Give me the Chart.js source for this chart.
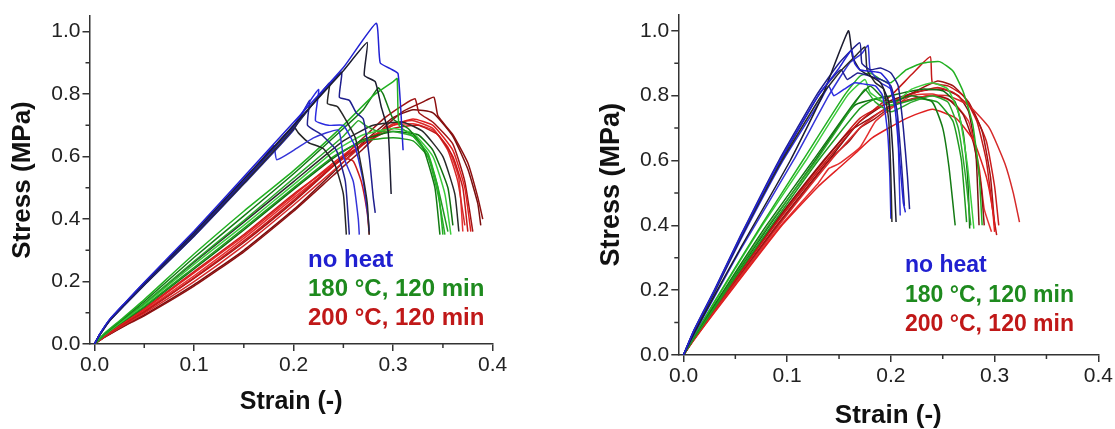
<!DOCTYPE html>
<html>
<head>
<meta charset="utf-8">
<script src="https://cdn.jsdelivr.net/npm/chart.js@4.4.0/dist/chart.umd.min.js"></script>
<style>
  body { margin: 0; background: #fff; width: 1115px; height: 429px; overflow: hidden; position: relative; }
  canvas { position: absolute; top: 0; }
  #leftChart { left: 0; }
  #rightChart { left: 570px; }
  .key { position: absolute; font-family: 'Liberation Sans', Arial, sans-serif; font-weight: bold; white-space: nowrap; }
</style>
</head>
<body>
<canvas id="leftChart" width="560" height="429"></canvas>
<canvas id="rightChart" width="545" height="429"></canvas>
<div class="key" id="keyLeft" style="left:308px; top:244px; font-size:24px; line-height:29px;"></div>
<div class="key" id="keyRight" style="left:905px; top:250px; font-size:23px; line-height:29.5px;"></div>

<script>
// axes
const strainTicks = [0, 0.1, 0.2, 0.3, 0.4];
const strainMinor = [0.05, 0.15, 0.25, 0.35];
const stressTicks = [0, 0.2, 0.4, 0.6, 0.8, 1.0];
const stressMinor = [0.1, 0.3, 0.5, 0.7, 0.9];
const groupNames = ['no heat', '180 °C, 120 min', '200 °C, 120 min'];

// left panel, [strain, stress]
const leftNoHeat = [
  [[0,0],[0.005,0.03],[0.015,0.078],[0.03,0.13],[0.05,0.198],[0.1,0.362],[0.15,0.535],[0.2,0.71],[0.25,0.885],[0.283,1.027],[0.287,0.90],[0.298,0.88],[0.305,0.865],[0.31,0.62]],
  [[0,0],[0.005,0.029],[0.015,0.076],[0.03,0.128],[0.05,0.195],[0.1,0.357],[0.15,0.528],[0.2,0.70],[0.25,0.875],[0.274,0.965],[0.271,0.86],[0.282,0.84],[0.288,0.76],[0.295,0.68],[0.298,0.48]],
  [[0,0],[0.005,0.028],[0.015,0.075],[0.03,0.126],[0.05,0.192],[0.1,0.352],[0.15,0.52],[0.2,0.695],[0.248,0.87],[0.246,0.79],[0.256,0.78],[0.263,0.74],[0.27,0.72],[0.276,0.60],[0.28,0.47],[0.282,0.42]],
  [[0,0],[0.005,0.028],[0.015,0.074],[0.03,0.125],[0.05,0.19],[0.1,0.348],[0.15,0.515],[0.2,0.69],[0.236,0.835],[0.234,0.77],[0.244,0.76],[0.252,0.72],[0.262,0.66],[0.269,0.55],[0.274,0.45],[0.276,0.35]],
  [[0,0],[0.005,0.03],[0.015,0.077],[0.03,0.129],[0.05,0.196],[0.1,0.355],[0.15,0.525],[0.2,0.70],[0.225,0.815],[0.222,0.715],[0.235,0.70],[0.25,0.70],[0.262,0.63],[0.27,0.52],[0.275,0.40],[0.276,0.36]],
  [[0,0],[0.005,0.027],[0.015,0.073],[0.03,0.123],[0.05,0.188],[0.1,0.345],[0.15,0.512],[0.2,0.685],[0.216,0.78],[0.214,0.70],[0.228,0.67],[0.243,0.62],[0.252,0.52],[0.256,0.35]],
  [[0,0],[0.005,0.029],[0.015,0.075],[0.03,0.126],[0.05,0.19],[0.1,0.345],[0.15,0.515],[0.18,0.635],[0.183,0.59],[0.2,0.62],[0.22,0.66],[0.245,0.685],[0.25,0.60],[0.26,0.52],[0.265,0.40],[0.266,0.35]],
  [[0,0],[0.005,0.028],[0.015,0.074],[0.03,0.125],[0.05,0.19],[0.1,0.35],[0.15,0.52],[0.2,0.695],[0.205,0.675],[0.215,0.645],[0.23,0.625],[0.242,0.57],[0.25,0.48],[0.253,0.35]]
];
const left180 = [
  [[0,0],[0.01,0.034],[0.027,0.079],[0.05,0.142],[0.1,0.288],[0.15,0.425],[0.2,0.555],[0.25,0.70],[0.28,0.795],[0.30,0.84],[0.304,0.85],[0.306,0.70],[0.32,0.665],[0.335,0.61],[0.345,0.50],[0.35,0.35]],
  [[0,0],[0.01,0.032],[0.027,0.076],[0.05,0.136],[0.1,0.277],[0.15,0.41],[0.2,0.545],[0.25,0.69],[0.27,0.75],[0.285,0.82],[0.29,0.80],[0.30,0.72],[0.315,0.69],[0.33,0.63],[0.342,0.50],[0.347,0.35]],
  [[0,0],[0.01,0.031],[0.027,0.074],[0.05,0.13],[0.1,0.265],[0.15,0.395],[0.2,0.53],[0.25,0.665],[0.265,0.715],[0.272,0.70],[0.285,0.68],[0.30,0.68],[0.32,0.665],[0.335,0.60],[0.345,0.48],[0.352,0.35]],
  [[0,0],[0.01,0.03],[0.027,0.071],[0.05,0.125],[0.1,0.255],[0.15,0.38],[0.2,0.51],[0.24,0.615],[0.27,0.67],[0.30,0.69],[0.32,0.675],[0.34,0.60],[0.352,0.48],[0.358,0.35]],
  [[0,0],[0.01,0.029],[0.027,0.069],[0.05,0.12],[0.1,0.245],[0.15,0.37],[0.2,0.50],[0.24,0.60],[0.27,0.65],[0.30,0.66],[0.32,0.65],[0.335,0.60],[0.345,0.50],[0.355,0.36]],
  [[0,0],[0.01,0.029],[0.027,0.068],[0.05,0.118],[0.1,0.24],[0.15,0.365],[0.2,0.495],[0.24,0.595],[0.27,0.655],[0.30,0.68],[0.325,0.67],[0.34,0.62],[0.355,0.50],[0.36,0.38]],
  [[0,0],[0.01,0.031],[0.027,0.073],[0.05,0.128],[0.1,0.262],[0.15,0.39],[0.2,0.52],[0.25,0.65],[0.28,0.70],[0.31,0.71],[0.33,0.68],[0.35,0.60],[0.362,0.48],[0.366,0.36]]
];
const left200 = [
  [[0,0],[0.01,0.026],[0.035,0.08],[0.05,0.11],[0.1,0.228],[0.15,0.345],[0.2,0.475],[0.24,0.58],[0.27,0.65],[0.30,0.70],[0.32,0.72],[0.34,0.70],[0.36,0.62],[0.372,0.50],[0.378,0.36]],
  [[0,0],[0.01,0.024],[0.035,0.075],[0.05,0.103],[0.1,0.212],[0.15,0.33],[0.2,0.46],[0.24,0.57],[0.27,0.64],[0.30,0.69],[0.325,0.70],[0.345,0.67],[0.36,0.60],[0.37,0.50],[0.375,0.36]],
  [[0,0],[0.01,0.023],[0.035,0.071],[0.05,0.098],[0.1,0.2],[0.15,0.315],[0.2,0.445],[0.24,0.555],[0.26,0.61],[0.28,0.665],[0.30,0.705],[0.32,0.715],[0.34,0.69],[0.355,0.62],[0.365,0.52],[0.372,0.38]],
  [[0,0],[0.01,0.021],[0.035,0.066],[0.05,0.09],[0.1,0.185],[0.15,0.295],[0.2,0.425],[0.24,0.54],[0.27,0.625],[0.29,0.69],[0.31,0.745],[0.33,0.775],[0.341,0.79],[0.345,0.73],[0.36,0.67],[0.375,0.58],[0.385,0.47],[0.39,0.40]],
  [[0,0],[0.01,0.024],[0.035,0.074],[0.05,0.102],[0.1,0.21],[0.15,0.325],[0.2,0.455],[0.24,0.57],[0.27,0.66],[0.29,0.72],[0.31,0.765],[0.322,0.785],[0.326,0.74],[0.34,0.71],[0.36,0.64],[0.372,0.52],[0.38,0.36]],
  [[0,0],[0.01,0.025],[0.035,0.077],[0.05,0.106],[0.1,0.218],[0.15,0.338],[0.2,0.468],[0.23,0.545],[0.25,0.60],[0.27,0.64],[0.30,0.70],[0.32,0.705],[0.34,0.685],[0.355,0.63],[0.366,0.53],[0.37,0.36]],
  [[0,0],[0.01,0.027],[0.035,0.082],[0.05,0.113],[0.1,0.232],[0.15,0.35],[0.2,0.48],[0.23,0.55],[0.25,0.595],[0.26,0.585],[0.268,0.52],[0.274,0.42],[0.276,0.35]],
  [[0,0],[0.01,0.022],[0.035,0.068],[0.05,0.093],[0.1,0.19],[0.15,0.30],[0.2,0.43],[0.24,0.55],[0.27,0.645],[0.30,0.725],[0.32,0.75],[0.34,0.74],[0.36,0.665],[0.375,0.56],[0.385,0.45],[0.388,0.38]]
];

// right panel, [strain, stress]
const rightNoHeat = [
  [[0,0],[0.01,0.075],[0.03,0.2],[0.055,0.365],[0.093,0.6],[0.13,0.80],[0.15,0.885],[0.162,0.94],[0.165,0.90],[0.17,0.88],[0.18,0.875],[0.19,0.87],[0.198,0.84],[0.204,0.76],[0.208,0.62],[0.212,0.47],[0.214,0.44]],
  [[0,0],[0.01,0.065],[0.03,0.185],[0.055,0.33],[0.103,0.6],[0.134,0.8],[0.159,1.0],[0.163,0.92],[0.17,0.88],[0.18,0.86],[0.19,0.84],[0.198,0.78],[0.202,0.62],[0.205,0.41]],
  [[0,0],[0.01,0.076],[0.03,0.202],[0.055,0.368],[0.092,0.6],[0.128,0.80],[0.15,0.90],[0.17,0.963],[0.172,0.90],[0.18,0.88],[0.19,0.885],[0.2,0.87],[0.207,0.83],[0.212,0.70],[0.216,0.55],[0.218,0.45]],
  [[0,0],[0.01,0.073],[0.03,0.196],[0.055,0.36],[0.095,0.6],[0.132,0.795],[0.15,0.87],[0.165,0.92],[0.175,0.95],[0.177,0.88],[0.185,0.84],[0.193,0.82],[0.198,0.72],[0.2,0.55],[0.201,0.41]],
  [[0,0],[0.01,0.072],[0.03,0.194],[0.055,0.355],[0.096,0.6],[0.133,0.79],[0.14,0.83],[0.145,0.80],[0.155,0.82],[0.165,0.84],[0.175,0.835],[0.185,0.83],[0.192,0.80],[0.197,0.68],[0.199,0.55],[0.2,0.42]],
  [[0,0],[0.01,0.074],[0.03,0.198],[0.055,0.362],[0.094,0.6],[0.13,0.80],[0.145,0.86],[0.152,0.88],[0.158,0.85],[0.168,0.87],[0.18,0.86],[0.19,0.85],[0.2,0.83],[0.206,0.75],[0.21,0.60],[0.213,0.46]],
  [[0,0],[0.01,0.063],[0.03,0.18],[0.055,0.325],[0.106,0.6],[0.14,0.8],[0.16,0.90],[0.172,0.93],[0.178,0.955],[0.18,0.88],[0.19,0.84],[0.2,0.82],[0.206,0.75],[0.208,0.55],[0.209,0.43]]
];
const right180 = [
  [[0,0],[0.01,0.058],[0.03,0.165],[0.05,0.27],[0.075,0.40],[0.115,0.6],[0.155,0.8],[0.17,0.86],[0.18,0.87],[0.19,0.85],[0.2,0.84],[0.215,0.88],[0.23,0.90],[0.247,0.905],[0.26,0.875],[0.27,0.81],[0.279,0.71],[0.285,0.56],[0.288,0.40]],
  [[0,0],[0.01,0.055],[0.03,0.155],[0.05,0.255],[0.08,0.40],[0.125,0.6],[0.165,0.78],[0.18,0.83],[0.19,0.80],[0.2,0.78],[0.22,0.80],[0.24,0.78],[0.25,0.70],[0.256,0.58],[0.262,0.40]],
  [[0,0],[0.01,0.053],[0.03,0.152],[0.05,0.25],[0.082,0.40],[0.128,0.6],[0.168,0.79],[0.175,0.82],[0.185,0.78],[0.2,0.75],[0.22,0.78],[0.24,0.80],[0.255,0.78],[0.265,0.70],[0.272,0.55],[0.277,0.40]],
  [[0,0],[0.01,0.057],[0.03,0.163],[0.05,0.267],[0.076,0.40],[0.118,0.6],[0.158,0.80],[0.175,0.85],[0.18,0.81],[0.2,0.77],[0.22,0.82],[0.24,0.84],[0.255,0.82],[0.266,0.74],[0.274,0.58],[0.28,0.39]],
  [[0,0],[0.01,0.051],[0.03,0.145],[0.05,0.24],[0.085,0.40],[0.13,0.6],[0.17,0.76],[0.185,0.79],[0.2,0.77],[0.225,0.79],[0.245,0.78],[0.26,0.72],[0.268,0.60],[0.273,0.41]],
  [[0,0],[0.01,0.052],[0.03,0.15],[0.05,0.246],[0.083,0.40],[0.127,0.6],[0.165,0.77],[0.2,0.80],[0.23,0.82],[0.25,0.815],[0.262,0.78],[0.27,0.68],[0.274,0.55],[0.276,0.39]]
];
const right200 = [
  [[0,0],[0.01,0.046],[0.03,0.132],[0.05,0.215],[0.095,0.40],[0.13,0.52],[0.151,0.58],[0.165,0.62],[0.182,0.67],[0.215,0.73],[0.24,0.758],[0.263,0.73],[0.28,0.66],[0.292,0.55],[0.298,0.45],[0.30,0.38]],
  [[0,0],[0.01,0.05],[0.03,0.143],[0.05,0.232],[0.088,0.40],[0.138,0.6],[0.17,0.72],[0.2,0.80],[0.22,0.865],[0.238,0.92],[0.24,0.84],[0.255,0.83],[0.27,0.80],[0.283,0.72],[0.292,0.60],[0.298,0.45],[0.302,0.37]],
  [[0,0],[0.01,0.048],[0.03,0.137],[0.05,0.222],[0.092,0.40],[0.142,0.6],[0.17,0.70],[0.19,0.75],[0.21,0.78],[0.235,0.80],[0.255,0.80],[0.275,0.77],[0.295,0.70],[0.31,0.59],[0.318,0.50],[0.324,0.41]],
  [[0,0],[0.01,0.051],[0.03,0.146],[0.05,0.237],[0.086,0.40],[0.135,0.6],[0.16,0.69],[0.18,0.73],[0.2,0.77],[0.22,0.79],[0.24,0.80],[0.255,0.79],[0.27,0.74],[0.28,0.65],[0.287,0.52],[0.29,0.40]],
  [[0,0],[0.01,0.049],[0.03,0.14],[0.05,0.227],[0.09,0.40],[0.14,0.6],[0.16,0.66],[0.17,0.70],[0.185,0.73],[0.21,0.79],[0.245,0.845],[0.26,0.83],[0.275,0.78],[0.288,0.69],[0.296,0.55],[0.30,0.40]],
  [[0,0],[0.01,0.047],[0.03,0.134],[0.05,0.218],[0.094,0.40],[0.13,0.53],[0.14,0.575],[0.15,0.59],[0.17,0.64],[0.185,0.72],[0.2,0.76],[0.22,0.80],[0.24,0.805],[0.26,0.78],[0.275,0.72],[0.285,0.58],[0.29,0.45],[0.297,0.38]],
  [[0,0],[0.01,0.05],[0.03,0.145],[0.05,0.235],[0.087,0.40],[0.136,0.6],[0.17,0.73],[0.2,0.78],[0.225,0.81],[0.245,0.825],[0.26,0.81],[0.278,0.76],[0.292,0.66],[0.3,0.52],[0.304,0.40]],
  [[0,0],[0.01,0.048],[0.03,0.138],[0.05,0.225],[0.091,0.40],[0.14,0.60],[0.17,0.72],[0.2,0.785],[0.23,0.815],[0.25,0.82],[0.265,0.80],[0.275,0.75],[0.282,0.62],[0.285,0.40]]
];

// colours
const noHeatColors = ['#2222d4', '#1c1c30', '#1e1e8e', '#2a2a2a', '#2b2be0', '#232390', '#3434d8', '#262626'];
const c180Colors = ['#22b022', '#137a13', '#2ca82c', '#3ccc3c', '#1e9a1e', '#0f6e0f', '#2a2a2a'];
const c200Colors = ['#e02020', '#c41818', '#d62a2a', '#8e1010', '#a01414', '#e43030', '#cc1c1c', '#7a1010', '#2a2a2a'];
const keyColors = ['#2020d0', '#1e8a1e', '#c01818'];
const axisColor = '#333';
const fontFamily = "'Liberation Sans', Arial, sans-serif";

function curveSets(curves, colors) {
    return curves.map((pts, i) => ({
        data: pts.map(p => ({ x: p[0], y: p[1] })),
        borderColor: colors[i % colors.length],
        borderWidth: 1.5,
        pointRadius: 0,
        showLine: true,
        fill: false,
        tension: 0.15
    }));
}

// minor ticks (shorter) drawn from the scales
const minorTicks = {
    id: 'minorTicks',
    afterDraw(chart) {
        const { ctx, chartArea } = chart;
        const x = chart.scales.x, y = chart.scales.y;
        ctx.save();
        ctx.strokeStyle = axisColor;
        ctx.lineWidth = 1.5;
        ctx.beginPath();
        strainMinor.forEach(v => {
            const px = x.getPixelForValue(v);
            ctx.moveTo(px, chartArea.bottom);
            ctx.lineTo(px, chartArea.bottom + 4);
        });
        stressMinor.forEach(v => {
            const py = y.getPixelForValue(v);
            ctx.moveTo(chartArea.left, py);
            ctx.lineTo(chartArea.left - 4, py);
        });
        ctx.stroke();
        ctx.restore();
    }
};

function makePanel(id, sets, cfg) {
    return new Chart(document.getElementById(id), {
        type: 'scatter',
        data: { datasets: sets },
        options: {
            responsive: false,
            animation: false,
            events: [],
            layout: { padding: { left: 0, top: cfg.top, right: cfg.right, bottom: 0 } },
            plugins: { legend: { display: false }, tooltip: { enabled: false } },
            scales: {
                x: {
                    type: 'linear', min: -0.005, max: 0.4,
                    afterBuildTicks: s => { s.ticks = strainTicks.map(v => ({ value: v })); },
                    afterFit: s => { s.height = cfg.xHeight; },
                    ticks: {
                        callback: v => v.toFixed(1),
                        font: { family: fontFamily, size: cfg.tickSize },
                        color: '#222', padding: 2, maxRotation: 0, autoSkip: false
                    },
                    grid: { drawOnChartArea: false, tickLength: 7, color: axisColor, lineWidth: 1.5 },
                    border: { color: axisColor, width: 1.5 },
                    title: {
                        display: true, text: 'Strain (-)', color: '#111',
                        font: { family: fontFamily, size: cfg.xTitleSize, weight: 'bold', lineHeight: 1 },
                        padding: { top: 0, bottom: cfg.xTitlePad }
                    }
                },
                y: {
                    type: 'linear', min: 0, max: 1.05,
                    afterBuildTicks: s => { s.ticks = stressTicks.map(v => ({ value: v })); },
                    afterFit: s => { s.width = cfg.yWidth; },
                    ticks: {
                        callback: v => v.toFixed(1),
                        font: { family: fontFamily, size: cfg.tickSize },
                        color: '#222', padding: 2
                    },
                    grid: { drawOnChartArea: false, tickLength: 7, color: axisColor, lineWidth: 1.5 },
                    border: { color: axisColor, width: 1.5 },
                    title: {
                        display: true, text: 'Stress (MPa)', color: '#111',
                        font: { family: fontFamily, size: cfg.yTitleSize, weight: 'bold', lineHeight: 1 },
                        padding: { top: cfg.yTitlePad, bottom: 0 }
                    }
                }
            }
        },
        plugins: [minorTicks]
    });
}

function fillKey(id) {
    const box = document.getElementById(id);
    groupNames.forEach((name, i) => {
        const d = document.createElement('div');
        d.textContent = name;
        d.style.color = keyColors[i];
        box.appendChild(d);
    });
}

// blue on top, then green, then red
makePanel('leftChart',
    [...curveSets(leftNoHeat, noHeatColors), ...curveSets(left180, c180Colors), ...curveSets(left200, c200Colors)],
    { top: 16, right: 67.3, xHeight: 85, yWidth: 89.5, tickSize: 21, xTitleSize: 25, xTitlePad: 14.5, yTitleSize: 26, yTitlePad: 10 });

makePanel('rightChart',
    [...curveSets(rightNoHeat, noHeatColors), ...curveSets(right180, c180Colors), ...curveSets(right200, c200Colors)],
    { top: 13, right: 16.7, xHeight: 74, yWidth: 108.3, tickSize: 21, xTitleSize: 26, xTitlePad: 0, yTitleSize: 27, yTitlePad: 28.5 });

fillKey('keyLeft');
fillKey('keyRight');
</script>
</body>
</html>
